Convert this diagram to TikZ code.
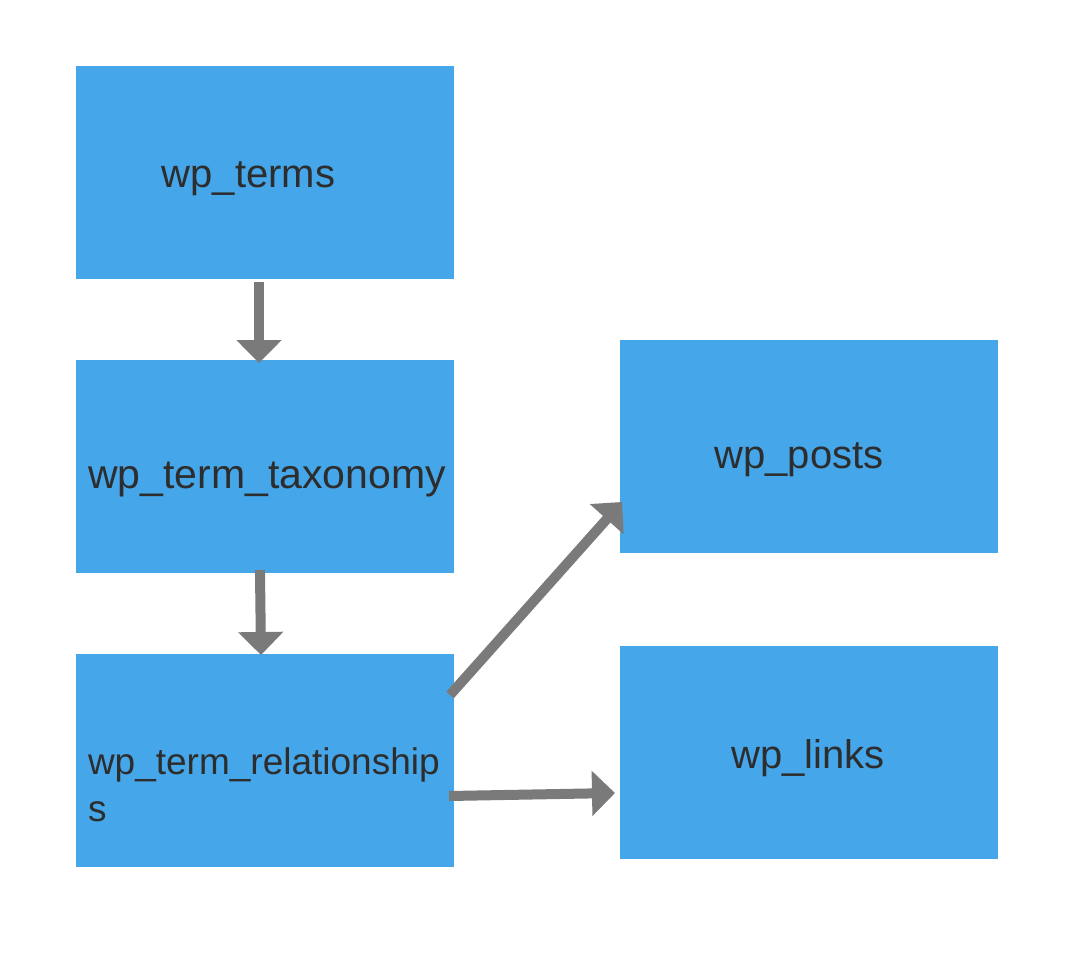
\documentclass[tikz,border=0pt]{standalone}
\usepackage{fontspec}
\setmainfont{Liberation Sans}
\usetikzlibrary{arrows.meta}
\definecolor{boxblue}{RGB}{69,166,233}
\definecolor{arrgray}{RGB}{122,122,122}
\definecolor{txtdark}{RGB}{45,45,45}
\tikzset{
  box/.style={fill=boxblue, draw=none, minimum width=378pt, minimum height=213pt, inner sep=0pt, outer sep=0pt},
  lbl/.style={text=txtdark, inner sep=0pt, outer sep=0pt, font=\fontsize{40}{48}\selectfont},
  arr/.style={draw=arrgray, line width=10pt, -{Triangle[width=44pt,length=23pt]}}
}
\begin{document}
\begin{tikzpicture}[x=1pt,y=-1pt]
\useasboundingbox[fill=white] (0,0) rectangle (1076,960);
% boxes
\node[box] (terms) at (265,172.5) {};
\node[box] (tax) at (265,466.5) {};
\node[box] (rel) at (265,760.5) {};
\node[box] (posts) at (809,446.5) {};
\node[box] (links) at (809,752.5) {};
% labels
\node[lbl, anchor=base] (termsl) at (248.5,188) {wp\_terms};
\node[lbl, anchor=base, font=\fontsize{41}{48}\selectfont] (taxl) at (267,488) {wp\_term\_taxonomy};
\node[lbl, anchor=base] (postsl) at (799,468) {wp\_posts};
\node[lbl, anchor=base] (linksl) at (808,768) {wp\_links};
\node[lbl, anchor=base west, align=left, font=\fontsize{37}{47}\selectfont] (rell) at (88,821) {wp\_term\_relationship\\s};
% connectors
\draw[arr, shorten <=3pt, shorten >=-3pt] ([xshift=-6pt]terms.south) -- ([xshift=-6pt]tax.north);
\draw[arr, shorten <=-3pt, shorten >=-1pt] ([xshift=-5pt]tax.south) -- ([xshift=-4pt]rel.north);
\coordinate (d1) at ([xshift=-4pt,yshift=-41pt]rel.north east);
\coordinate (d2) at ([xshift=2pt,yshift=51pt]posts.south west);
\draw[arr] (d1) -- (d2);
\coordinate (h1) at ([xshift=-5pt,yshift=-35.5pt]rel.east);
\coordinate (h2) at ([xshift=-5pt,yshift=-40.5pt]links.west);
\draw[arr] (h1) -- (h2);
\end{tikzpicture}
\end{document}
